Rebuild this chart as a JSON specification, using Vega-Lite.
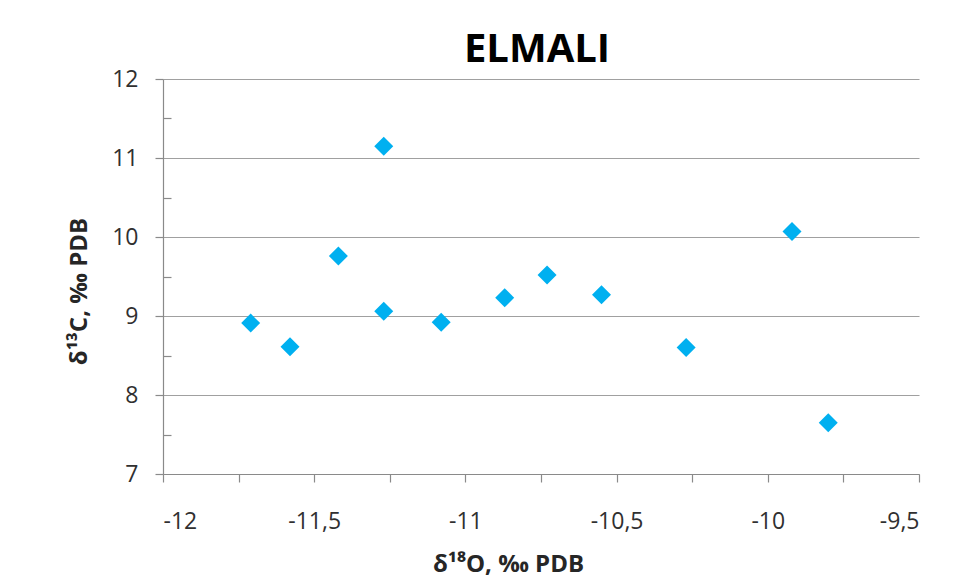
{
  "$schema": "https://vega.github.io/schema/vega-lite/v6.json",
  "width": 756,
  "height": 395,
  "autosize": {"type": "none"},
  "padding": {"left": 163, "top": 79, "right": 43, "bottom": 107},
  "background": "white",
  "title": {
    "text": "ELMALI",
    "font": "Open Sans",
    "fontSize": 40,
    "fontWeight": "bold",
    "color": "#000000",
    "anchor": "middle",
    "frame": "group",
    "baseline": "alphabetic",
    "offset": 16,
    "dy": 50,
    "dx": -4
  },
  "config": {
    "locale": {"number": {"decimal": ",", "thousands": ".", "grouping": [3], "currency": ["", ""], "minus": "-"}},
    "view": {"stroke": null},
    "axis": {
      "labelFont": "Open Sans",
      "labelFontSize": 23,
      "labelColor": "#303030",
      "titleFont": "Open Sans",
      "titleFontSize": 24,
      "titleFontWeight": "bold",
      "titleColor": "#262626",
      "domainColor": "#8a8a8a",
      "tickColor": "#8a8a8a",
      "gridColor": "#a0a0a0",
      "domainWidth": 1.2,
      "tickWidth": 1.2,
      "gridWidth": 1.2,
      "tickSize": 8
    }
  },
  "data": {
    "values": [
      {"d18O": -11.71, "d13C": 8.91},
      {"d18O": -11.58, "d13C": 8.61},
      {"d18O": -11.42, "d13C": 9.76},
      {"d18O": -11.27, "d13C": 11.15},
      {"d18O": -11.27, "d13C": 9.06},
      {"d18O": -11.08, "d13C": 8.92},
      {"d18O": -10.87, "d13C": 9.23},
      {"d18O": -10.73, "d13C": 9.52},
      {"d18O": -10.55, "d13C": 9.27},
      {"d18O": -10.27, "d13C": 8.60},
      {"d18O": -9.92, "d13C": 10.07},
      {"d18O": -9.80, "d13C": 7.65}
    ]
  },
  "layer": [
    {
      "mark": {"type": "point", "opacity": 0},
      "encoding": {
        "x": {
          "field": "d18O", "type": "quantitative",
          "scale": {"domain": [-12, -9.5], "nice": false, "zero": false},
          "axis": {"orient": "bottom", "values": [-11.75, -11.25, -10.75, -10.25, -9.75], "labels": false, "grid": false, "domain": false, "title": null, "tickSize": 8}
        },
        "y": {
          "field": "d13C", "type": "quantitative",
          "scale": {"domain": [7, 12], "nice": false, "zero": false},
          "axis": {"orient": "left", "values": [7.5, 8.5, 9.5, 10.5, 11.5], "labels": false, "grid": false, "domain": false, "title": null, "tickSize": -8}
        }
      }
    },
    {
      "mark": {"type": "point", "shape": "diamond", "filled": true, "color": "#00B0F0", "size": 361, "opacity": 1},
      "encoding": {
        "x": {
          "field": "d18O", "type": "quantitative",
          "scale": {"domain": [-12, -9.5], "nice": false, "zero": false},
          "axis": {
            "orient": "bottom",
            "values": [-12, -11.5, -11, -10.5, -10, -9.5],
            "format": "~g",
            "grid": false,
            "labelPadding": 28,
            "titlePadding": 19,
            "titleX": 345,
            "titleAlign": "center",
            "title": "δ¹⁸O, ‰ PDB"
          }
        },
        "y": {
          "field": "d13C", "type": "quantitative",
          "scale": {"domain": [7, 12], "nice": false, "zero": false},
          "axis": {
            "orient": "left",
            "values": [7, 8, 9, 10, 11, 12],
            "format": "~g",
            "grid": true,
            "labelPadding": 17,
            "titlePadding": 20,
            "titleY": 212,
            "titleAlign": "center",
            "title": "δ¹³C, ‰ PDB"
          }
        }
      }
    }
  ],
  "resolve": {"axis": {"x": "independent", "y": "independent"}}
}
